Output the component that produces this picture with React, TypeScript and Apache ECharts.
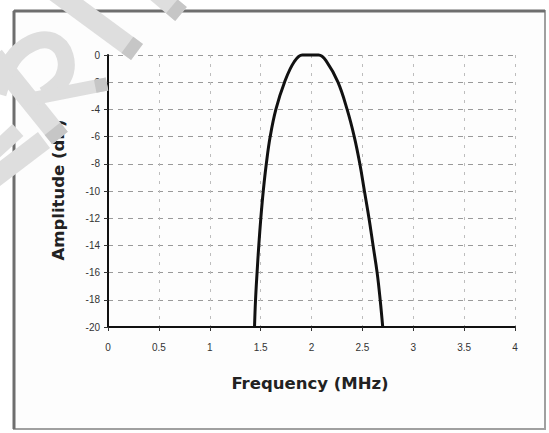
import React, { useEffect, useRef } from "react";
import * as echarts from "echarts";

// Curve: frequency (MHz) vs amplitude (dB)
const frequencies = [1.44, 1.45, 1.465, 1.482, 1.502, 1.526, 1.556, 1.594, 1.65, 1.735, 1.83, 1.91, 2.07, 2.15, 2.26, 2.35, 2.42, 2.475, 2.52, 2.565, 2.605, 2.645, 2.675, 2.7];
const amplitudes = [-20, -18, -16, -14, -12, -10, -8, -6, -4, -2, -0.5, 0, 0, -0.5, -2, -4, -6, -8, -10, -12, -14, -16, -18, -20];

const xTitle = "Frequency (MHz)";
const yTitle = "Amplitude (dB)";

type Pt = [number, number];

function band(a: Pt, b: Pt, w: number): number[][] {
  const dx = b[0] - a[0];
  const dy = b[1] - a[1];
  const len = Math.hypot(dx, dy);
  const nx = (-dy / len) * (w / 2);
  const ny = (dx / len) * (w / 2);
  return [
    [a[0] + nx, a[1] + ny],
    [b[0] + nx, b[1] + ny],
    [b[0] - nx, b[1] - ny],
    [a[0] - nx, a[1] - ny],
  ];
}

function capOf(a: Pt, b: Pt, w: number, capLen: number): number[][] {
  const dx = b[0] - a[0];
  const dy = b[1] - a[1];
  const len = Math.hypot(dx, dy);
  const s: Pt = [b[0] - (dx / len) * capLen, b[1] - (dy / len) * capLen];
  return band(s, b, w);
}

const WM_FILL = "#dedede";
const WM_CAP = "#c6c6c6";

function bandEls(a: Pt, b: Pt, w: number, withCap: boolean): any[] {
  const els: any[] = [
    { type: "polygon", z: 100, silent: true, shape: { points: band(a, b, w) }, style: { fill: WM_FILL } },
  ];
  if (withCap) {
    els.push({ type: "polygon", z: 101, silent: true, shape: { points: capOf(a, b, w, 12) }, style: { fill: WM_CAP } });
  }
  return els;
}

const FONT = "DejaVu Sans, Verdana, sans-serif";

export default function App() {
  const ref = useRef<HTMLDivElement>(null);

  useEffect(() => {
    if (!ref.current) return;
    const chart = echarts.init(ref.current, undefined, { renderer: "svg" });
    const data = frequencies.map((f, i) => [f, amplitudes[i]]);

    const watermark: any[] = [
      ...bandEls([50, -12], [137, 52], 20, true),
      ...bandEls([150, -12], [181, 14], 18, true),
      ...bandEls([-6, 56], [60, 138], 20, true),
      ...bandEls([-6, 178], [44, 140], 20, false),
      ...bandEls([-6, 152], [18, 130], 16, false),
      {
        type: "polyline",
        z: 100,
        silent: true,
        shape: {
          points: [[-2, 94], [12, 60], [32, 43], [52, 41], [65, 56], [63, 78], [44, 95]],
          smooth: 0.4,
        },
        style: { stroke: WM_FILL, lineWidth: 17, fill: "none" },
      },
      ...bandEls([36, 98], [107, 84], 13, true),
    ];

    chart.setOption({
      animation: false,
      backgroundColor: "#ffffff",
      grid: {
        left: 108,
        right: 34,
        top: 55,
        bottom: 106,
        containLabel: false,
        outerBoundsMode: "none",
      },
      xAxis: {
        type: "value",
        min: 0,
        max: 4,
        interval: 0.5,
        axisLine: { show: true, onZero: false, lineStyle: { color: "#111", width: 2 } },
        axisTick: { show: true, length: 4, lineStyle: { color: "#333" } },
        axisLabel: { fontSize: 10, color: "#333", margin: 15, fontFamily: "Liberation Sans, Arial, sans-serif" },
        splitLine: { show: true, lineStyle: { color: "#bdbdbd", type: [3, 6], width: 1 } },
      },
      yAxis: {
        type: "value",
        min: -20,
        max: 0,
        interval: 2,
        axisLine: { show: true, onZero: false, lineStyle: { color: "#111", width: 2 } },
        axisTick: { show: true, length: 4, lineStyle: { color: "#333" } },
        axisLabel: { fontSize: 10, color: "#333", margin: 8, fontFamily: "Liberation Sans, Arial, sans-serif" },
        splitLine: { show: true, lineStyle: { color: "#9a9a9a", type: [5, 5], width: 1 } },
      },
      series: [
        {
          type: "line",
          data,
          smooth: 0.4,
          showSymbol: false,
          symbol: "none",
          clip: false,
          lineStyle: { color: "#111", width: 3 },
        },
      ],
      graphic: [
        {
          type: "rect",
          z: -10,
          silent: true,
          shape: { x: 14, y: 11, width: 531, height: 418 },
          style: { fill: "#fdfdfd", stroke: "#a0a0a0", lineWidth: 2 },
        },
        { type: "line", z: -9, silent: true, shape: { x1: 14, y1: 11, x2: 545, y2: 11 }, style: { stroke: "#6e6e6e", lineWidth: 3 } },
        { type: "line", z: -9, silent: true, shape: { x1: 14, y1: 11, x2: 14, y2: 429 }, style: { stroke: "#6e6e6e", lineWidth: 3 } },
        {
          type: "text",
          z: 50,
          x: 310,
          y: 383,
          style: {
            text: xTitle,
            fontSize: 16.5,
            fontWeight: "bold",
            fill: "#222",
            fontFamily: FONT,
            align: "center",
            verticalAlign: "middle",
          },
        },
        {
          type: "text",
          z: 50,
          x: 58,
          y: 190,
          rotation: Math.PI / 2,
          style: {
            text: yTitle,
            fontSize: 16.5,
            fontWeight: "bold",
            fill: "#222",
            fontFamily: FONT,
            align: "center",
            verticalAlign: "middle",
          },
        },
        ...watermark,
      ],
    });

    return () => chart.dispose();
  }, []);

  return (
    <div
      ref={ref}
      style={{ position: "fixed", left: 0, top: 0, width: 549, height: 433 }}
    />
  );
}
